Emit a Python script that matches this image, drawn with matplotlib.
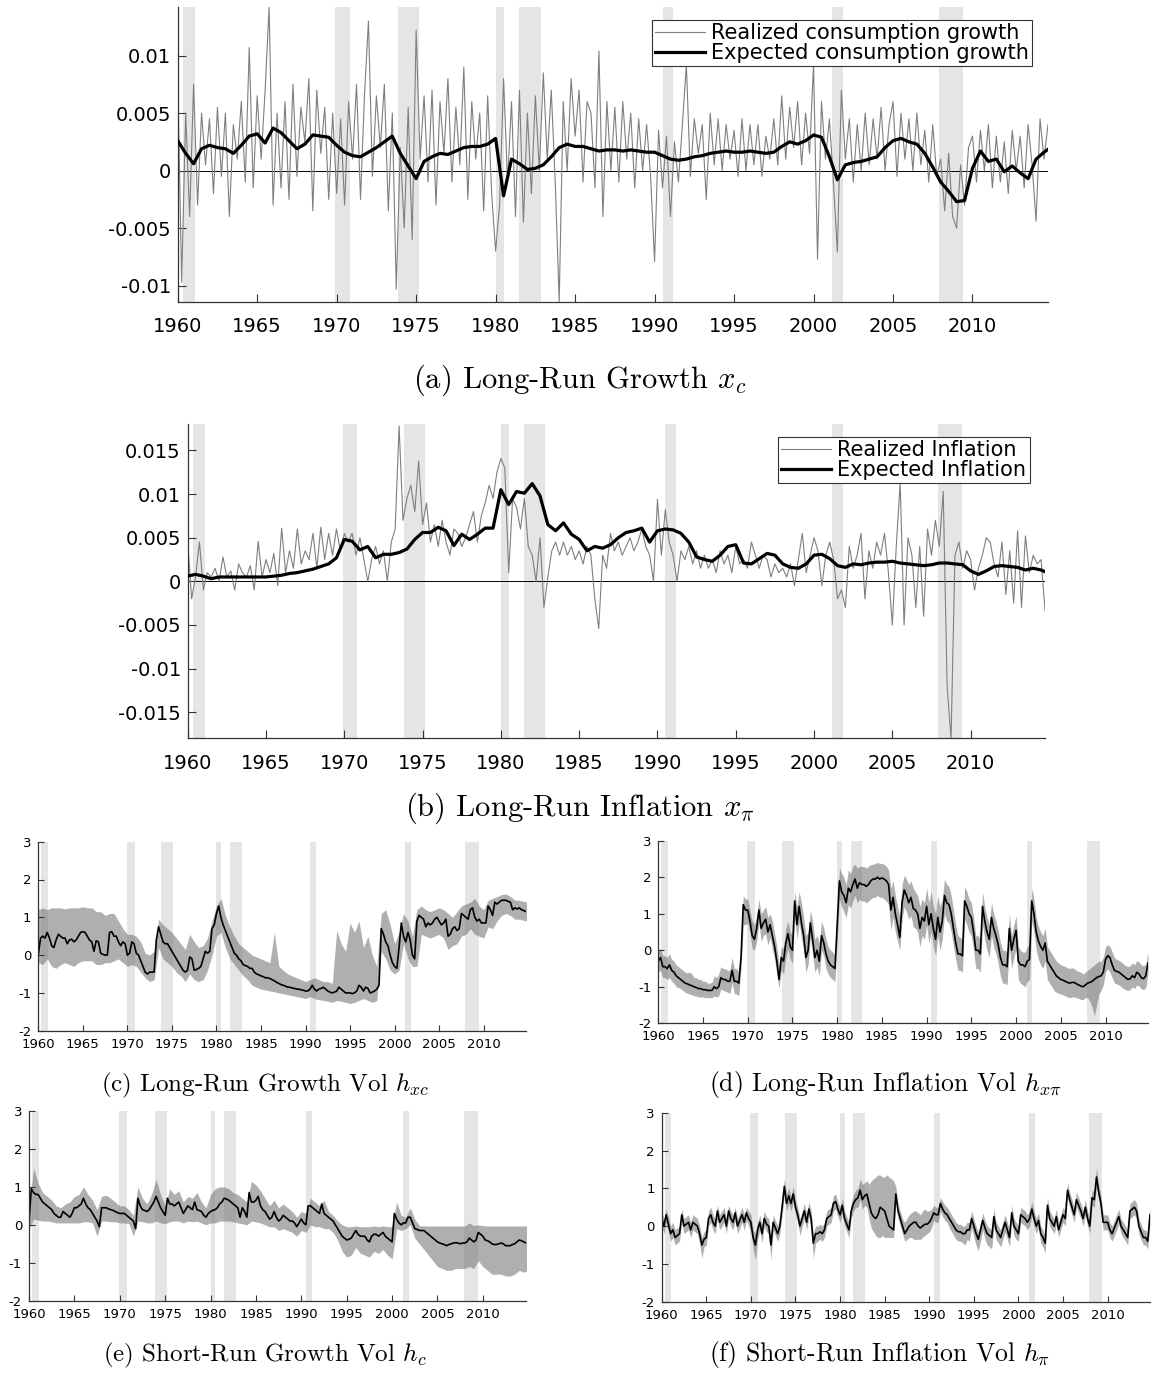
import numpy as np
import matplotlib
matplotlib.use("Agg")
import matplotlib.pyplot as plt

plt.rcParams['axes.unicode_minus'] = False
plt.rcParams['mathtext.fontset'] = 'cm'

# NBER recessions
rec_start = [1960.33, 1969.92, 1973.83, 1980.0, 1981.5, 1990.5, 2001.17, 2007.92]
rec_end = [1961.08, 1970.83, 1975.17, 1980.5, 1982.83, 1991.17, 2001.83, 2009.42]

year_ticks = [1960, 1965, 1970, 1975, 1980, 1985, 1990, 1995, 2000, 2005, 2010]

# quarterly grid 1960.00 .. 2014.75, semiannual grid 1960.0 .. 2015.0
t_q = 1960 + 0.25 * np.arange(220)
t_h = 1960 + 0.5 * np.arange(111)

# (a) consumption growth
realized_c = [
    0.0080, -0.0097, 0.0050, -0.0040,
    0.0075, -0.0030, 0.0050, 0.0005,
    0.0045, -0.0020, 0.0055, -0.0005,
    0.0050, -0.0040, 0.0040, 0.0010,
    0.0060, -0.0010, 0.0107, -0.0015,
    0.0065, 0.0010, 0.0070, 0.0142,
    -0.0030, 0.0050, -0.0015, 0.0060,
    -0.0025, 0.0075, -0.0005, 0.0055,
    0.0025, 0.0080, -0.0035, 0.0070,
    0.0015, 0.0055, -0.0025, 0.0050,
    -0.0020, 0.0045, -0.0030, 0.0060,
    0.0010, 0.0075, -0.0025, 0.0065,
    0.0130, -0.0005, 0.0065, 0.0020,
    0.0075, -0.0035, 0.0050, -0.0103,
    0.0020, -0.0050, 0.0055, -0.0060,
    0.0122, 0.0010, 0.0065, -0.0010,
    0.0070, -0.0030, 0.0060, 0.0015,
    0.0080, -0.0010, 0.0055, 0.0005,
    0.0090, -0.0025, 0.0060, 0.0010,
    0.0050, -0.0035, 0.0065, -0.0020,
    -0.0070, -0.0030, 0.0080, -0.0010,
    0.0060, -0.0040, 0.0070, -0.0045,
    0.0050, -0.0020, 0.0065, 0.0000,
    0.0085, 0.0010, 0.0070, -0.0010,
    -0.0114, 0.0060, 0.0000, 0.0080,
    0.0030, 0.0070, -0.0010, 0.0060,
    0.0050, -0.0015, 0.0104, -0.0040,
    0.0060, 0.0000, 0.0055, -0.0010,
    0.0060, 0.0010, 0.0050, -0.0015,
    0.0045, 0.0000, 0.0040, -0.0005,
    -0.0079, 0.0035, -0.0015, 0.0030,
    -0.0040, 0.0025, -0.0010, 0.0040,
    0.0092, -0.0005, 0.0045, 0.0015,
    0.0040, -0.0025, 0.0050, 0.0005,
    0.0045, 0.0000, 0.0040, 0.0010,
    0.0035, -0.0005, 0.0045, 0.0000,
    0.0040, 0.0005, 0.0040, -0.0005,
    0.0030, 0.0010, 0.0045, 0.0005,
    0.0065, 0.0010, 0.0055, 0.0020,
    0.0060, 0.0005, 0.0050, 0.0015,
    0.0092, -0.0077, 0.0060, 0.0010,
    0.0045, -0.0010, -0.0071, 0.0070,
    0.0010, 0.0045, -0.0010, 0.0040,
    0.0000, 0.0050, 0.0005, 0.0045,
    0.0010, 0.0055, 0.0000, 0.0040,
    0.0060, -0.0005, 0.0050, 0.0010,
    0.0045, 0.0000, 0.0050, 0.0005,
    0.0035, -0.0010, 0.0040, -0.0005,
    0.0010, -0.0035, 0.0015, -0.0040,
    -0.0050, 0.0005, -0.0030, 0.0020,
    0.0030, -0.0010, 0.0035, 0.0000,
    0.0040, -0.0015, 0.0030, -0.0010,
    0.0025, -0.0020, 0.0035, 0.0000,
    0.0030, -0.0015, 0.0040, 0.0005,
    -0.0044, 0.0045, 0.0010, 0.0040,
]
expected_c = [
    0.0026, 0.0015, 0.0006, 0.0019, 0.0022, 0.0020, 0.0019, 0.0015, 0.0022, 0.0030,
    0.0032, 0.0024, 0.0037, 0.0033, 0.0026, 0.0019, 0.0023, 0.0031, 0.0030, 0.0029,
    0.0022, 0.0016, 0.0013, 0.0012, 0.0016, 0.0020, 0.0025, 0.0030, 0.0015, 0.0004,
    -0.0007, 0.0008, 0.0012, 0.0015, 0.0014, 0.0017, 0.0020, 0.0021, 0.0021, 0.0023,
    0.0028, -0.0022, 0.0010, 0.0006, 0.0001, 0.0002, 0.0005, 0.0012, 0.0020, 0.0023,
    0.0021, 0.0021, 0.0019, 0.0017, 0.0018, 0.0018, 0.0017, 0.0018, 0.0017, 0.0016,
    0.0016, 0.0013, 0.0010, 0.0009, 0.0010, 0.0012, 0.0013, 0.0015, 0.0016, 0.0017,
    0.0016, 0.0016, 0.0017, 0.0016, 0.0015, 0.0016, 0.0021, 0.0025, 0.0023, 0.0026,
    0.0031, 0.0029, 0.0012, -0.0008, 0.0005, 0.0007, 0.0008, 0.0010, 0.0012, 0.0020,
    0.0026, 0.0028, 0.0025, 0.0023, 0.0015, 0.0003, -0.0010, -0.0018, -0.0027, -0.0026,
    0.0002, 0.0017, 0.0008, 0.0010, -0.0001, 0.0004, -0.0002, -0.0007, 0.0010, 0.0016,
    0.0021,
]

# (b) inflation
realized_pi = [
    0.0045, -0.0020, 0.0005, 0.0045,
    -0.0010, 0.0010, 0.0005, 0.0015,
    0.0000, 0.0028, 0.0005, 0.0012,
    -0.0010, 0.0020, 0.0010, 0.0005,
    0.0018, -0.0010, 0.0046, 0.0005,
    0.0025, 0.0010, 0.0032, -0.0005,
    0.0061, 0.0010, 0.0035, 0.0015,
    0.0060, 0.0020, 0.0035, 0.0025,
    0.0055, 0.0015, 0.0062, 0.0025,
    0.0055, 0.0030, 0.0060, 0.0035,
    0.0055, 0.0045, 0.0055, 0.0030,
    0.0050, 0.0025, 0.0000, 0.0025,
    0.0040, 0.0020, 0.0035, 0.0000,
    0.0045, 0.0060, 0.0178, 0.0070,
    0.0095, 0.0110, 0.0080, 0.0138,
    0.0065, 0.0090, 0.0045, 0.0065,
    0.0040, 0.0070, 0.0045, 0.0030,
    0.0060, 0.0055, 0.0040, 0.0050,
    0.0065, 0.0080, 0.0045, 0.0075,
    0.0090, 0.0110, 0.0095, 0.0125,
    0.0141, 0.0130, 0.0010, 0.0095,
    0.0085, 0.0060, 0.0095, 0.0040,
    0.0030, 0.0000, 0.0050, -0.0030,
    0.0005, 0.0035, 0.0045, 0.0030,
    0.0045, 0.0030, 0.0040, 0.0025,
    0.0035, 0.0020, 0.0040, 0.0030,
    -0.0020, -0.0054, 0.0030, 0.0015,
    0.0055, 0.0035, 0.0045, 0.0030,
    0.0040, 0.0050, 0.0035, 0.0045,
    0.0060, 0.0040, 0.0030, 0.0000,
    0.0094, 0.0030, 0.0082, 0.0045,
    0.0030, 0.0000, 0.0035, 0.0025,
    0.0040, 0.0020, 0.0035, 0.0015,
    0.0030, 0.0015, 0.0025, 0.0010,
    0.0035, 0.0020, 0.0030, 0.0010,
    0.0040, 0.0020, 0.0025, 0.0015,
    0.0045, 0.0030, 0.0015, 0.0030,
    0.0025, 0.0005, 0.0020, 0.0010,
    0.0015, 0.0005, 0.0020, -0.0005,
    0.0025, 0.0055, 0.0010, 0.0030,
    0.0050, 0.0035, -0.0005, 0.0030,
    0.0045, 0.0025, -0.0020, -0.0010,
    -0.0030, 0.0040, 0.0015, 0.0030,
    0.0055, -0.0020, 0.0035, 0.0015,
    0.0045, 0.0030, 0.0055, 0.0010,
    -0.0050, 0.0040, 0.0113, -0.0050,
    0.0050, 0.0030, -0.0030, 0.0040,
    -0.0040, 0.0060, 0.0030, 0.0070,
    0.0040, 0.0103, -0.0120, -0.0180,
    0.0030, 0.0045, 0.0015, 0.0035,
    0.0025, -0.0010, 0.0015, 0.0030,
    0.0050, 0.0045, 0.0020, 0.0005,
    0.0045, -0.0015, 0.0035, -0.0025,
    0.0058, -0.0030, 0.0052, 0.0010,
    0.0030, 0.0020, 0.0025, -0.0033,
]
expected_pi = [
    0.0006, 0.0008, 0.0006, 0.0003, 0.0005, 0.0005, 0.0005, 0.0005, 0.0005, 0.0005,
    0.0005, 0.0006, 0.0007, 0.0009, 0.0010, 0.0012, 0.0014, 0.0017, 0.0020, 0.0027,
    0.0048, 0.0046, 0.0036, 0.0040, 0.0027, 0.0031, 0.0031, 0.0033, 0.0037, 0.0048,
    0.0056, 0.0056, 0.0062, 0.0058, 0.0041, 0.0054, 0.0048, 0.0054, 0.0061, 0.0061,
    0.0105, 0.0088, 0.0103, 0.0101, 0.0112, 0.0098, 0.0065, 0.0058, 0.0067, 0.0054,
    0.0048, 0.0035, 0.0040, 0.0038, 0.0042, 0.0050, 0.0056, 0.0058, 0.0061, 0.0045,
    0.0058, 0.0060, 0.0059, 0.0055, 0.0045, 0.0028, 0.0025, 0.0023, 0.0030, 0.0040,
    0.0042, 0.0021, 0.0020, 0.0026, 0.0032, 0.0030, 0.0020, 0.0016, 0.0015, 0.0020,
    0.0030, 0.0031, 0.0026, 0.0018, 0.0016, 0.0020, 0.0019, 0.0021, 0.0022, 0.0022,
    0.0023, 0.0021, 0.0020, 0.0019, 0.0018, 0.0019, 0.0021, 0.0021, 0.0020, 0.0019,
    0.0012, 0.0008, 0.0012, 0.0017, 0.0018, 0.0017, 0.0016, 0.0013, 0.0015, 0.0013,
    0.0009,
]

# (c) long-run growth vol
h_xc = [
    0.00, 0.45, 0.50, 0.45,
    0.60, 0.45, 0.25, 0.20,
    0.40, 0.55, 0.50, 0.45,
    0.45, 0.30, 0.40, 0.42,
    0.35, 0.40, 0.50, 0.60,
    0.62, 0.60, 0.50, 0.40,
    0.35, 0.10, 0.38, 0.35,
    0.05, 0.02, 0.00, 0.00,
    0.60, 0.62, 0.50, 0.50,
    0.35, 0.25, 0.35, 0.30,
    0.00, 0.05, 0.35, 0.30,
    0.05, 0.00, -0.15, -0.30,
    -0.45, -0.50, -0.45, -0.45,
    -0.45, 0.40, 0.75, 0.55,
    0.35, 0.30, 0.30, 0.20,
    0.10, 0.00, -0.10, -0.20,
    -0.30, -0.40, -0.45, -0.40,
    -0.05, -0.10, -0.40, -0.38,
    -0.35, -0.30, -0.10, 0.10,
    0.05, 0.10, 0.70, 0.80,
    1.10, 1.30, 1.00, 0.80,
    0.65, 0.50, 0.35, 0.20,
    0.05, 0.00, -0.10, -0.15,
    -0.25, -0.28, -0.30, -0.35,
    -0.35, -0.45, -0.50, -0.52,
    -0.55, -0.57, -0.60, -0.60,
    -0.62, -0.65, -0.68, -0.72,
    -0.75, -0.78, -0.80, -0.82,
    -0.85, -0.85, -0.87, -0.88,
    -0.90, -0.90, -0.92, -0.93,
    -0.95, -0.95, -0.90, -0.80,
    -0.90, -0.95, -0.90, -0.88,
    -0.85, -0.90, -0.95, -0.98,
    -1.00, -0.98, -0.95, -0.85,
    -0.90, -0.95, -1.00, -1.00,
    -1.00, -1.02, -1.00, -0.95,
    -0.80, -0.85, -0.95, -0.85,
    -0.88, -1.00, -0.98, -0.95,
    -0.90, -0.80, 0.70, 0.55,
    0.35, 0.25, 0.00, -0.20,
    -0.30, -0.35, 0.20, 0.85,
    0.50, 0.35, 0.60, 0.40,
    0.00, -0.10, 0.90, 1.05,
    1.00, 0.95, 0.75, 0.85,
    0.80, 0.85, 0.95, 1.00,
    0.90, 0.80, 0.85, 0.95,
    0.50, 0.55, 0.70, 0.75,
    0.65, 0.70, 1.10, 1.05,
    1.00, 0.95, 1.20, 1.25,
    1.00, 0.90, 0.95, 0.85,
    0.85, 0.85, 1.30, 1.20,
    1.05, 1.40, 1.35, 1.40,
    1.45, 1.45, 1.45, 1.42,
    1.40, 1.20, 1.25, 1.22,
    1.25, 1.20, 1.18, 1.15,
]
h_xc_hi = [
    1.20, 1.25, 1.20, 1.25, 1.25, 1.25, 1.22, 1.25, 1.25, 1.25,
    1.28, 1.25, 1.25, 1.15, 1.15, 1.05, 1.10, 1.10, 0.90, 0.70,
    0.55, 0.55, 0.50, 0.35, 0.05, 0.00, 0.10, 0.95, 0.80, 0.70,
    0.60, 0.45, 0.30, 0.15, 0.55, 0.35, 0.20, 0.25, 0.45, 0.90,
    1.30, 1.50, 1.05, 0.75, 0.50, 0.30, 0.20, 0.10, 0.00, -0.05,
    -0.10, -0.15, -0.20, 0.60, -0.30, -0.40, -0.50, -0.55, -0.60, -0.65,
    -0.70, -0.65, -0.60, -0.65, -0.70, -0.70, -0.75, 0.65, 0.30, 0.10,
    0.85, 0.60, 0.90, 0.20, 0.50, 0.00, -0.30, 1.10, 1.20, 0.80,
    0.30, 0.60, 1.10, 0.90, 0.50, 1.20, 1.30, 1.20, 1.15, 1.20,
    1.25, 1.20, 1.10, 1.00, 1.15, 1.30, 1.35, 1.40, 1.50, 1.30,
    1.20, 1.45, 1.50, 1.55, 1.60, 1.62, 1.55, 1.45, 1.45, 1.42,
    1.40,
]
h_xc_lo = [
    -0.20, -0.25, -0.10, -0.30, -0.35, -0.25, -0.20, -0.25, -0.30, -0.20,
    -0.15, -0.15, -0.15, -0.25, -0.25, -0.20, -0.20, -0.15, -0.10, -0.20,
    -0.30, -0.25, -0.30, -0.45, -0.60, -0.70, -0.65, 0.20, -0.10, -0.20,
    -0.30, -0.45, -0.55, -0.70, -0.50, -0.65, -0.70, -0.65, -0.40, 0.00,
    0.50, 0.60, 0.20, -0.10, -0.25, -0.40, -0.55, -0.65, -0.80, -0.85,
    -0.90, -0.92, -0.95, -0.97, -1.00, -1.02, -1.05, -1.07, -1.10, -1.12,
    -1.15, -1.10, -1.15, -1.18, -1.20, -1.22, -1.25, -1.20, -1.22, -1.25,
    -1.28, -1.25, -1.20, -1.15, -1.20, -1.25, -1.20, 0.10, -0.10, -0.40,
    -0.50, -0.40, 0.30, -0.10, -0.30, -0.30, 0.55, 0.50, 0.45, 0.50,
    0.55, 0.45, 0.15, 0.25, 0.30, 0.50, 0.55, 0.70, 0.55, 0.50,
    0.45, 0.75, 0.70, 0.90, 1.05, 1.10, 1.05, 0.95, 0.95, 0.92,
    0.90,
]

# (d) long-run inflation vol
h_xpi = [
    -0.30, -0.20, -0.45, -0.45,
    -0.50, -0.40, -0.55, -0.60,
    -0.70, -0.75, -0.80, -0.85,
    -0.90, -0.92, -0.95, -0.97,
    -1.00, -1.02, -1.05, -1.05,
    -1.08, -1.08, -1.10, -1.10,
    -1.10, -1.00, -1.05, -1.00,
    -0.75, -0.80, -0.80, -0.85,
    -0.85, -0.55, -0.85, -0.85,
    -0.90, -0.20, 1.25, 1.10,
    1.10, 0.80, 0.40, 0.30,
    0.60, 1.10, 0.60, 0.75,
    0.85, 0.50, 0.70, 0.40,
    0.10, -0.30, -0.80, -0.20,
    -0.30, 0.20, 0.45, 0.10,
    0.00, 1.35, 0.70, 1.20,
    0.75, 0.40, -0.20, 0.00,
    0.75, 0.30, -0.20, 0.00,
    -0.30, 0.40, 0.20, -0.10,
    -0.30, -0.40, -0.45, -0.50,
    0.70, 1.90, 1.60, 1.50,
    1.30, 1.70, 1.60, 1.80,
    1.95, 1.70, 1.85, 1.80,
    1.80, 1.75, 1.80, 1.90,
    1.95, 1.95, 2.00, 1.95,
    1.98, 1.95, 1.90, 1.80,
    1.10, 1.45, 1.00, 0.70,
    0.35, 1.30, 1.65, 1.50,
    1.30, 1.45, 1.15, 1.10,
    1.00, 0.60, 0.90, 0.80,
    1.20, 0.70, 1.00, 0.60,
    0.30, 0.90, 0.50, 0.80,
    1.50, 1.30, 1.25, 1.00,
    0.60, 0.20, -0.10, -0.10,
    -0.15, 1.35, 1.20, 1.00,
    0.90, 0.50, 0.00, 0.00,
    -0.10, 1.20, 0.80, 0.50,
    0.30, 0.90, 0.60, 0.40,
    0.15, -0.20, -0.40, -0.40,
    -0.45, 0.60, 0.00, 0.30,
    0.55, -0.30, -0.40, -0.40,
    -0.45, -0.30, -0.25, 1.35,
    1.00, 0.50, 0.25, 0.10,
    0.00, 0.20, -0.30, -0.40,
    -0.50, -0.60, -0.70, -0.75,
    -0.80, -0.82, -0.85, -0.88,
    -0.90, -0.88, -0.88, -0.92,
    -0.95, -0.98, -1.00, -0.95,
    -0.90, -0.88, -0.85, -0.80,
    -0.75, -0.72, -0.70, -0.60,
    -0.25, -0.15, -0.20, -0.40,
    -0.55, -0.58, -0.60, -0.65,
    -0.70, -0.75, -0.80, -0.78,
    -0.70, -0.75, -0.60, -0.65,
    -0.75, -0.78, -0.70, -0.35,
]
h_xpi_hi = [
    0.00, 0.05, -0.15, -0.15,
    -0.20, -0.10, -0.25, -0.30,
    -0.40, -0.45, -0.50, -0.55,
    -0.60, -0.62, -0.60, -0.65,
    -0.75, -0.75, -0.80, -0.80,
    -0.85, -0.85, -0.90, -0.90,
    -0.88, -0.70, -0.75, -0.65,
    -0.45, -0.50, -0.50, -0.55,
    -0.55, -0.20, -0.50, -0.50,
    -0.60, 0.10, 1.50, 1.40,
    1.40, 1.10, 0.80, 0.70,
    0.95, 1.40, 1.00, 1.10,
    1.20, 0.90, 1.00, 0.80,
    0.45, 0.10, -0.40, 0.10,
    0.05, 0.60, 0.80, 0.50,
    0.40, 1.60, 1.20, 1.60,
    1.30, 0.90, 0.40, 0.50,
    1.10, 0.80, 0.30, 0.40,
    0.20, 0.80, 0.60, 0.30,
    0.10, 0.00, -0.05, -0.15,
    1.20, 2.25, 2.10, 2.00,
    1.80, 2.20, 2.10, 2.30,
    2.35, 2.25, 2.30, 2.30,
    2.30, 2.25, 2.30, 2.35,
    2.35, 2.38, 2.40, 2.38,
    2.38, 2.35, 2.30, 2.20,
    1.70, 1.90, 1.50, 1.20,
    0.90, 1.80, 2.05, 1.95,
    1.80, 1.90, 1.70, 1.60,
    1.50, 1.20, 1.40, 1.30,
    1.70, 1.30, 1.60, 1.20,
    1.00, 1.50, 1.20, 1.40,
    1.95, 1.80, 1.75, 1.50,
    1.10, 0.70, 0.40, 0.35,
    0.30, 1.75, 1.60, 1.40,
    1.30, 0.90, 0.40, 0.40,
    0.30, 1.60, 1.20, 0.90,
    0.70, 1.30, 1.00, 0.80,
    0.55, 0.20, 0.00, 0.00,
    -0.05, 1.00, 0.40, 0.70,
    0.95, 0.10, 0.00, -0.05,
    -0.05, 0.10, 0.15, 1.70,
    1.40, 0.90, 0.65, 0.50,
    0.40, 0.60, 0.10, 0.00,
    -0.10, -0.20, -0.30, -0.35,
    -0.40, -0.42, -0.45, -0.48,
    -0.50, -0.48, -0.50, -0.55,
    -0.58, -0.60, -0.65, -0.60,
    -0.55, -0.50, -0.45, -0.40,
    -0.35, -0.30, -0.30, -0.20,
    0.10, 0.15, 0.10, -0.05,
    -0.20, -0.25, -0.28, -0.32,
    -0.38, -0.42, -0.45, -0.42,
    -0.35, -0.40, -0.28, -0.32,
    -0.40, -0.42, -0.38, -0.05,
]
h_xpi_lo = [
    -0.60, -0.55, -0.75, -0.75,
    -0.80, -0.75, -0.85, -0.90,
    -1.00, -1.02, -1.05, -1.10,
    -1.15, -1.18, -1.20, -1.22,
    -1.25, -1.25, -1.28, -1.28,
    -1.28, -1.30, -1.30, -1.30,
    -1.30, -1.25, -1.28, -1.25,
    -1.05, -1.10, -1.12, -1.15,
    -1.18, -0.90, -1.18, -1.20,
    -1.25, -0.50, 0.70, 0.70,
    0.75, 0.45, 0.05, 0.00,
    0.25, 0.75, 0.25, 0.40,
    0.45, 0.15, 0.35, 0.05,
    -0.25, -0.65, -1.05, -0.55,
    -0.65, -0.20, 0.05, -0.25,
    -0.35, 0.90, 0.30, 0.75,
    0.35, 0.00, -0.60, -0.40,
    0.35, -0.10, -0.60, -0.45,
    -0.70, 0.00, -0.15, -0.50,
    -0.65, -0.75, -0.80, -0.85,
    0.20, 1.40, 1.20, 1.05,
    0.90, 1.25, 1.15, 1.35,
    1.50, 1.30, 1.40, 1.35,
    1.35, 1.30, 1.35, 1.40,
    1.45, 1.45, 1.50, 1.45,
    1.45, 1.40, 1.35, 1.25,
    0.55, 0.90, 0.50, 0.25,
    0.00, 0.85, 1.20, 1.05,
    0.85, 0.95, 0.65, 0.60,
    0.50, 0.10, 0.40, 0.30,
    0.70, 0.20, 0.50, 0.10,
    -0.15, 0.40, 0.00, 0.30,
    1.00, 0.80, 0.75, 0.50,
    0.10, -0.25, -0.55, -0.55,
    -0.60, 0.85, 0.70, 0.50,
    0.40, 0.00, -0.50, -0.50,
    -0.60, 0.70, 0.30, 0.00,
    -0.20, 0.40, 0.10, -0.10,
    -0.35, -0.70, -0.90, -0.90,
    -0.95, 0.10, -0.50, -0.20,
    0.05, -0.80, -0.90, -0.95,
    -1.00, -0.85, -0.80, 0.80,
    0.50, 0.00, -0.25, -0.40,
    -0.50, -0.30, -0.80, -0.90,
    -1.00, -1.10, -1.15, -1.18,
    -1.20, -1.22, -1.25, -1.28,
    -1.30, -1.28, -1.28, -1.30,
    -1.32, -1.35, -1.35, -1.30,
    -1.30, -1.40, -1.55, -1.80,
    -1.50, -1.20, -1.10, -0.95,
    -0.60, -0.50, -0.60, -0.75,
    -0.90, -0.92, -0.95, -1.00,
    -1.05, -1.08, -1.10, -1.08,
    -1.00, -1.05, -0.95, -0.98,
    -1.05, -1.08, -1.02, -0.65,
]

# (e) short-run growth vol
h_c = [
    0.05, 0.95, 0.85, 0.80,
    0.80, 0.70, 0.60, 0.55,
    0.50, 0.45, 0.40, 0.30,
    0.25, 0.20, 0.20, 0.35,
    0.30, 0.25, 0.20, 0.30,
    0.45, 0.45, 0.50, 0.55,
    0.70, 0.55, 0.45, 0.40,
    0.30, 0.20, 0.10, -0.05,
    0.45, 0.45, 0.45, 0.42,
    0.40, 0.38, 0.35, 0.32,
    0.30, 0.30, 0.30, 0.25,
    0.20, 0.15, 0.10, -0.10,
    0.70, 0.50, 0.40, 0.38,
    0.35, 0.40, 0.50, 0.60,
    0.75, 0.60, 0.45, 0.35,
    0.25, 0.70, 0.55, 0.55,
    0.50, 0.55, 0.60, 0.45,
    0.30, 0.40, 0.50, 0.45,
    0.40, 0.60, 0.40, 0.38,
    0.35, 0.25, 0.20, 0.30,
    0.35, 0.38, 0.40, 0.45,
    0.55, 0.60, 0.70, 0.68,
    0.65, 0.60, 0.55, 0.50,
    0.45, 0.20, 0.45, 0.35,
    0.20, 0.85, 0.60, 0.60,
    0.65, 0.75, 0.50, 0.40,
    0.35, 0.25, 0.15, 0.20,
    0.35, 0.20, 0.10, 0.15,
    0.25, 0.20, 0.15, 0.10,
    0.10, 0.05, -0.05, 0.05,
    0.15, 0.05, 0.00, 0.50,
    0.50, 0.45, 0.40, 0.35,
    0.30, 0.55, 0.30, 0.25,
    0.20, 0.15, 0.10, 0.00,
    -0.10, -0.20, -0.30, -0.35,
    -0.40, -0.38, -0.35, -0.25,
    -0.15, -0.25, -0.30, -0.30,
    -0.30, -0.40, -0.45, -0.30,
    -0.25, -0.25, -0.30, -0.25,
    -0.20, -0.30, -0.35, -0.40,
    -0.45, 0.30, 0.15, 0.05,
    0.00, 0.05, 0.05, 0.20,
    0.20, 0.05, -0.10, -0.12,
    -0.15, -0.15, -0.15, -0.20,
    -0.25, -0.30, -0.35, -0.40,
    -0.45, -0.48, -0.50, -0.52,
    -0.55, -0.52, -0.50, -0.48,
    -0.47, -0.48, -0.50, -0.48,
    -0.48, -0.45, -0.35, -0.40,
    -0.45, -0.40, -0.20, -0.25,
    -0.30, -0.40, -0.42, -0.45,
    -0.50, -0.52, -0.52, -0.50,
    -0.48, -0.50, -0.55, -0.55,
    -0.55, -0.52, -0.50, -0.45,
    -0.40, -0.42, -0.45, -0.48,
]
h_c_hi = [
    0.40, 1.50, 1.10, 0.85, 0.75, 0.65, 0.50, 0.45, 0.55, 0.60,
    0.75, 0.80, 1.00, 0.80, 0.65, 0.40, 0.75, 0.78, 0.70, 0.60,
    0.50, 0.50, 0.40, 0.25, 1.00, 0.70, 0.55, 0.80, 1.20, 0.80,
    0.50, 0.95, 0.80, 0.90, 0.60, 0.75, 0.70, 0.85, 0.60, 0.45,
    0.80, 0.95, 1.00, 1.00, 0.95, 0.85, 0.80, 0.70, 0.60, 1.15,
    1.05, 0.90, 0.70, 0.50, 0.65, 0.45, 0.55, 0.45, 0.35, 0.20,
    0.35, 0.30, 0.70, 0.60, 0.50, 0.65, 0.35, 0.25, 0.10, 0.00,
    -0.05, -0.05, -0.03, -0.05, -0.05, -0.05, -0.03, -0.05, -0.03, -0.05,
    -0.05, 0.60, 0.25, 0.20, 0.45, 0.15, -0.02, -0.03, -0.03, -0.03,
    -0.03, -0.03, -0.03, -0.03, -0.03, -0.03, -0.03, 0.05, -0.02, 0.00,
    -0.02, -0.03, -0.03, -0.03, -0.03, -0.03, -0.03, -0.03, -0.03, -0.03,
    -0.03,
]
h_c_lo = [
    -0.10, 0.15, 0.12, 0.10, 0.10, 0.08, 0.05, 0.05, 0.05, 0.05,
    0.05, 0.05, 0.08, 0.08, 0.05, -0.30, 0.10, 0.10, 0.08, 0.08,
    0.05, 0.05, 0.03, -0.30, 0.10, 0.08, 0.05, 0.05, 0.10, 0.05,
    0.03, 0.08, 0.10, 0.10, 0.05, 0.10, 0.08, 0.10, 0.05, 0.00,
    0.05, 0.05, 0.10, 0.10, 0.10, 0.08, 0.05, 0.03, 0.00, 0.10,
    0.08, 0.05, 0.00, -0.05, -0.05, -0.15, -0.10, -0.15, -0.20, -0.30,
    -0.15, -0.20, 0.00, -0.05, -0.05, -0.10, -0.10, -0.20, -0.40, -0.70,
    -0.85, -0.80, -0.60, -0.75, -0.80, -0.85, -0.70, -0.75, -0.65, -0.80,
    -0.90, -0.10, -0.15, -0.10, 0.00, -0.35, -0.50, -0.65, -0.80, -0.95,
    -1.10, -1.15, -1.20, -1.20, -1.15, -1.15, -1.15, -1.10, -1.15, -0.95,
    -1.10, -1.20, -1.30, -1.30, -1.30, -1.35, -1.35, -1.30, -1.20, -1.25,
    -1.20,
]

# (f) short-run inflation vol
h_pi = [
    0.20, 0.00, 0.30, 0.05,
    -0.20, -0.10, -0.30, -0.25,
    -0.20, 0.30, 0.00, 0.05,
    0.10, -0.10, 0.10, 0.05,
    0.00, -0.20, -0.50, -0.35,
    -0.30, 0.20, 0.30, 0.10,
    0.00, 0.40, 0.10, 0.20,
    0.30, 0.00, 0.40, 0.20,
    0.10, 0.35, 0.00, 0.15,
    0.30, 0.10, 0.35, 0.20,
    0.10, -0.30, -0.50, -0.10,
    0.10, -0.20, 0.20, 0.05,
    0.00, -0.50, 0.10, -0.05,
    -0.20, 0.00, 0.50, 1.05,
    0.60, 0.80, 0.60, 0.85,
    0.50, 0.30, 0.00, 0.20,
    0.40, 0.10, 0.45, 0.20,
    -0.45, -0.20, -0.20, -0.15,
    -0.20, -0.10, 0.20, 0.25,
    0.30, 0.60, 0.65, 0.45,
    0.30, 0.55, 0.20, 0.05,
    -0.10, 0.40, 0.60, 0.70,
    0.75, 0.95, 0.70, 0.80,
    0.85, 0.60, 0.35, 0.25,
    0.20, 0.30, 0.50, 0.45,
    0.40, 0.20, 0.00, -0.05,
    -0.10, 0.85, 0.40, 0.20,
    0.00, -0.20, -0.10, 0.00,
    0.05, 0.10, 0.10, 0.00,
    -0.05, 0.00, 0.05, 0.05,
    0.10, 0.20, 0.35, 0.30,
    0.30, 0.60, 0.45, 0.35,
    0.30, 0.20, 0.10, 0.00,
    -0.10, -0.15, -0.15, -0.20,
    -0.20, -0.10, -0.10, 0.20,
    0.00, -0.20, -0.35, -0.10,
    0.15, -0.05, -0.20, -0.25,
    -0.30, 0.25, -0.10, -0.20,
    -0.30, -0.10, 0.10, -0.10,
    -0.30, 0.35, 0.00, -0.10,
    -0.20, 0.30, 0.25, 0.20,
    0.10, 0.20, 0.45, 0.20,
    0.00, 0.15, -0.20, -0.30,
    -0.45, 0.55, 0.20, 0.10,
    0.00, 0.25, -0.10, 0.10,
    0.30, 0.20, 0.95, 0.70,
    0.50, 0.30, 0.70, 0.55,
    0.40, 0.20, 0.50, 0.20,
    0.00, 0.75, 0.70, 1.30,
    0.90, 0.60, 0.10, 0.10,
    0.10, -0.10, -0.20, -0.05,
    0.10, 0.25, 0.00, -0.10,
    -0.20, -0.30, 0.40, 0.45,
    0.50, 0.40, 0.00, -0.15,
    -0.30, -0.30, -0.40, 0.30,
]
h_pi_hi = [
    0.40, 0.20, 0.45, 0.25,
    0.00, 0.10, -0.10, -0.05,
    0.00, 0.45, 0.20, 0.25,
    0.30, 0.10, 0.30, 0.25,
    0.20, 0.00, -0.30, -0.15,
    -0.10, 0.40, 0.50, 0.30,
    0.20, 0.55, 0.30, 0.40,
    0.50, 0.20, 0.55, 0.40,
    0.30, 0.50, 0.20, 0.35,
    0.50, 0.30, 0.50, 0.40,
    0.30, -0.10, -0.20, 0.10,
    0.30, 0.00, 0.40, 0.25,
    0.20, -0.25, 0.30, 0.15,
    0.00, 0.20, 0.70, 1.25,
    0.85, 1.00, 0.80, 1.05,
    0.70, 0.50, 0.20, 0.40,
    0.60, 0.30, 0.65, 0.40,
    -0.20, 0.00, 0.00, 0.05,
    0.00, 0.10, 0.40, 0.45,
    0.50, 0.80, 0.85, 0.65,
    0.50, 0.75, 0.40, 0.25,
    0.10, 0.60, 0.85, 0.95,
    1.00, 1.25, 1.10, 1.15,
    1.20, 1.10, 1.20, 1.25,
    1.30, 1.35, 1.35, 1.30,
    1.30, 1.35, 1.30, 1.25,
    1.20, 1.05, 0.60, 0.40,
    0.20, 0.10, 0.20, 0.30,
    0.35, 0.40, 0.40, 0.35,
    0.30, 0.40, 0.45, 0.40,
    0.40, 0.45, 0.55, 0.50,
    0.50, 0.75, 0.65, 0.55,
    0.50, 0.40, 0.30, 0.20,
    0.10, 0.05, 0.05, 0.00,
    0.00, 0.10, 0.10, 0.40,
    0.20, 0.00, -0.15, 0.10,
    0.35, 0.15, 0.00, -0.05,
    -0.10, 0.45, 0.10, 0.00,
    -0.10, 0.10, 0.30, 0.10,
    -0.10, 0.55, 0.20, 0.10,
    0.00, 0.50, 0.45, 0.40,
    0.30, 0.40, 0.65, 0.40,
    0.20, 0.35, 0.00, -0.10,
    -0.25, 0.75, 0.40, 0.30,
    0.20, 0.45, 0.10, 0.30,
    0.50, 0.40, 1.15, 0.90,
    0.70, 0.50, 0.90, 0.75,
    0.60, 0.40, 0.70, 0.40,
    0.20, 0.95, 0.90, 1.55,
    1.10, 0.80, 0.30, 0.30,
    0.30, 0.10, 0.00, 0.15,
    0.30, 0.45, 0.20, 0.10,
    0.00, -0.10, 0.60, 0.65,
    0.70, 0.60, 0.20, 0.05,
    -0.10, -0.10, -0.20, 0.50,
]
h_pi_lo = [
    0.00, -0.20, 0.10, -0.15,
    -0.40, -0.30, -0.50, -0.45,
    -0.40, 0.10, -0.20, -0.15,
    -0.10, -0.30, -0.10, -0.15,
    -0.20, -0.45, -0.85, -0.55,
    -0.50, 0.00, 0.10, -0.10,
    -0.20, 0.20, -0.10, 0.00,
    0.10, -0.20, 0.20, 0.00,
    -0.10, 0.15, -0.20, -0.05,
    0.10, -0.10, 0.15, 0.00,
    -0.15, -0.60, -0.90, -0.35,
    -0.10, -0.45, 0.00, -0.15,
    -0.20, -0.90, -0.10, -0.25,
    -0.40, -0.20, 0.30, 0.80,
    0.40, 0.60, 0.40, 0.65,
    0.30, 0.10, -0.25, 0.00,
    0.20, -0.10, 0.25, 0.00,
    -0.85, -0.45, -0.40, -0.35,
    -0.40, -0.30, 0.00, 0.05,
    0.10, 0.40, 0.45, 0.25,
    0.10, 0.35, 0.00, -0.15,
    -0.30, 0.20, 0.40, 0.50,
    0.50, 0.70, 0.45, 0.55,
    0.50, 0.20, -0.05, -0.15,
    -0.25, -0.30, -0.30, -0.25,
    -0.30, -0.30, -0.30, -0.30,
    -0.30, 0.65, 0.20, 0.00,
    -0.20, -0.40, -0.35, -0.30,
    -0.30, -0.35, -0.35, -0.35,
    -0.35, -0.30, -0.25, -0.20,
    -0.15, -0.05, 0.15, 0.10,
    0.10, 0.40, 0.25, 0.15,
    0.10, -0.05, -0.15, -0.25,
    -0.35, -0.40, -0.40, -0.45,
    -0.50, -0.35, -0.40, -0.05,
    -0.30, -0.50, -0.65, -0.40,
    -0.10, -0.35, -0.50, -0.55,
    -0.60, 0.00, -0.35, -0.45,
    -0.55, -0.35, -0.15, -0.35,
    -0.55, 0.10, -0.25, -0.35,
    -0.40, 0.10, 0.05, 0.00,
    -0.10, 0.00, 0.25, 0.00,
    -0.20, -0.05, -0.45, -0.55,
    -0.70, 0.30, 0.00, -0.10,
    -0.20, 0.05, -0.30, -0.10,
    0.10, 0.00, 0.75, 0.50,
    0.30, 0.10, 0.50, 0.35,
    0.20, 0.00, 0.30, 0.00,
    -0.20, 0.55, 0.50, 1.05,
    0.70, 0.40, -0.10, -0.10,
    -0.10, -0.30, -0.40, -0.25,
    -0.10, 0.05, -0.20, -0.30,
    -0.40, -0.50, 0.20, 0.25,
    0.30, 0.20, -0.20, -0.35,
    -0.50, -0.50, -0.60, 0.10,
]

W, H = 1151, 1374
fig = plt.figure(figsize=(W / 100, H / 100), dpi=100)


def make_axes(left, right, top, bottom):
    return fig.add_axes([left / W, 1 - bottom / H, (right - left) / W, (bottom - top) / H])


def style(ax, fs, ylab_pad, xlab_pad, tick_len):
    for s in ['top', 'right']:
        ax.spines[s].set_visible(False)
    for s in ['left', 'bottom']:
        ax.spines[s].set_color('#333333')
        ax.spines[s].set_linewidth(0.9)
    ax.tick_params(direction='in', length=tick_len, width=0.8, color='#333333', labelsize=fs)
    ax.tick_params(axis='y', pad=ylab_pad)
    ax.tick_params(axis='x', pad=xlab_pad)
    ax.set_xticks(year_ticks)
    ax.set_xticklabels([str(y) for y in year_ticks])
    ax.set_xlim(t_q[0], t_q[-1])
    for a, b in zip(rec_start, rec_end):
        ax.axvspan(a, b, color='#e5e5e5', lw=0, zorder=0)


def add_legend(ax, anchor):
    leg = ax.legend(loc='upper right', bbox_to_anchor=anchor, borderaxespad=0, fontsize=15,
                    frameon=True, fancybox=False, edgecolor='#333333', framealpha=1,
                    handlelength=2.4, handletextpad=0.3, borderpad=0.15, labelspacing=0.0)
    leg.get_frame().set_linewidth(0.8)


# panel (a)
ax = make_axes(177.7, 1048, 7.3, 301.7)
style(ax, 14, 5, 11, 6)
ax.set_ylim(-0.0114, 0.0142)
ax.set_yticks([-0.01, -0.005, 0, 0.005, 0.01])
ax.set_yticklabels(['-0.01', '-0.005', '0', '0.005', '0.01'])
ax.axhline(0, color='black', lw=0.7, zorder=1)
ax.plot(t_q, realized_c, color='#7f7f7f', lw=0.8, zorder=2, label='Realized consumption growth')
ax.plot(t_h, expected_c, color='black', lw=2.3, zorder=3, label='Expected consumption growth')
add_legend(ax, (0.9816, 0.957))

# panel (b)
ax = make_axes(187.7, 1045, 424.3, 738.4)
style(ax, 14, 5, 11, 6)
ax.set_ylim(-0.018, 0.018)
ax.set_yticks([-0.015, -0.01, -0.005, 0, 0.005, 0.01, 0.015])
ax.set_yticklabels(['-0.015', '-0.01', '-0.005', '0', '0.005', '0.01', '0.015'])
ax.axhline(0, color='black', lw=0.7, zorder=1)
ax.plot(t_q, realized_pi, color='#7f7f7f', lw=0.8, zorder=2, label='Realized Inflation')
ax.plot(t_h, expected_pi, color='black', lw=2.3, zorder=3, label='Expected Inflation')
add_legend(ax, (0.982, 0.9595))

# panels (c)-(f)
vol_panels = [
    ((38.3, 526, 841.7, 1030.7), t_h, h_xc_lo, h_xc_hi, h_xc),
    ((658.3, 1148, 840.7, 1023.3), t_q, h_xpi_lo, h_xpi_hi, h_xpi),
    ((29, 526, 1111, 1300.7), t_h, h_c_lo, h_c_hi, h_c),
    ((661.7, 1150, 1112.7, 1301.7), t_q, h_pi_lo, h_pi_hi, h_pi),
]
for box, tb, lo, hi, line in vol_panels:
    ax = make_axes(*box)
    style(ax, 9.5, 5, 5, 4)
    ax.set_ylim(-2, 3)
    ax.set_yticks([-2, -1, 0, 1, 2, 3])
    ax.set_yticklabels(['-2', '-1', '0', '1', '2', '3'])
    ax.fill_between(tb, lo, hi, color='#7a7a7a', alpha=0.6, lw=0, zorder=1)
    ax.plot(t_q, line, color='black', lw=1.2, zorder=2)

captions = [
    (580, 380, r'(a) Long-Run Growth $x_c$', 22),
    (580, 808, r'(b) Long-Run Inflation $x_\pi$', 22),
    (265, 1085, r'(c) Long-Run Growth Vol $h_{xc}$', 18),
    (885, 1085, r'(d) Long-Run Inflation Vol $h_{x\pi}$', 18.5),
    (265, 1355, r'(e) Short-Run Growth Vol $h_c$', 18),
    (880, 1355, r'(f) Short-Run Inflation Vol $h_\pi$', 18.5),
]
for cx, cy, txt, fs in captions:
    fig.text(cx / W, 1 - cy / H, txt, family='cmr10', fontsize=fs, ha='center', va='center')

fig.savefig('out.png', dpi=100)
